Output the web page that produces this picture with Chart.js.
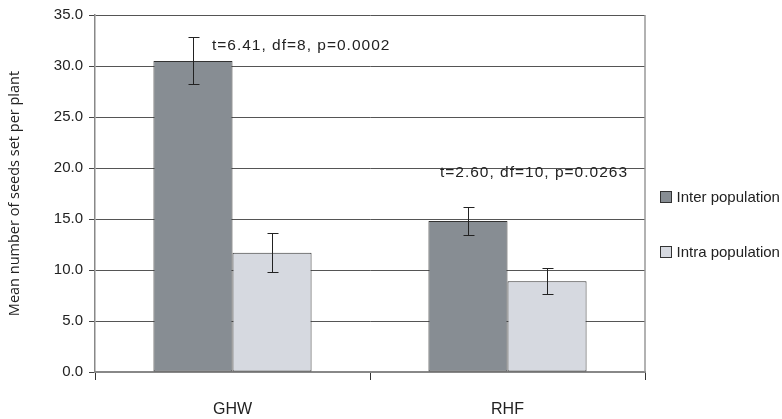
<!DOCTYPE html>
<html>
<head>
<meta charset="utf-8">
<script src="https://cdn.jsdelivr.net/npm/chart.js@4.4.1/dist/chart.umd.min.js"></script>
<style>
  html, body { margin: 0; padding: 0; background: #fff; }
  #wrap { width: 782px; height: 419px; }
</style>
</head>
<body>
<div id="wrap"><canvas id="myChart"></canvas></div>
<script>
// data
const sites = ['GHW', 'RHF'];
const interMeans = [30.5, 14.8];
const interErr = [2.3, 1.4];
const intraMeans = [11.7, 8.9];
const intraErr = [1.9, 1.3];
const statTexts = ['t=6.41, df=8, p=0.0002', 't=2.60, df=10, p=0.0263'];
const yTicks = [0, 5, 10, 15, 20, 25, 30, 35];

const sans = '"Liberation Sans", Arial, sans-serif';

// error bars + t-test text
const extras = {
    id: 'extras',
    afterDatasetsDraw(chart) {
        const c = chart.ctx;
        const y = chart.scales.y;
        c.save();
        c.strokeStyle = '#222';
        c.lineWidth = 1;
        chart.data.datasets.forEach((ds, i) => {
            const meta = chart.getDatasetMeta(i);
            meta.data.forEach((bar, j) => {
                const x = Math.round(bar.x) + 0.5;
                const top = Math.round(y.getPixelForValue(ds.data[j] + ds.err[j])) + 0.5;
                const bot = Math.round(y.getPixelForValue(ds.data[j] - ds.err[j])) + 0.5;
                c.beginPath();
                c.moveTo(x, top); c.lineTo(x, bot);
                c.moveTo(x - 5, top); c.lineTo(x + 6, top);
                c.moveTo(x - 5, bot); c.lineTo(x + 6, bot);
                c.stroke();
            });
        });
        // stat text placed relative to the inter bar's error bar
        c.fillStyle = '#222';
        c.font = '15.5px ' + sans;
        c.letterSpacing = '1px';
        c.textBaseline = 'middle';
        const meta0 = chart.getDatasetMeta(0);
        const dx = [19, -28];
        const dy = [8, -34];
        statTexts.forEach((t, j) => {
            const bar = meta0.data[j];
            const ty = y.getPixelForValue(interMeans[j] + interErr[j]) + dy[j];
            c.fillText(t, bar.x + dx[j], ty);
        });
        c.restore();
    }
};

// right border of the plot + legend on the right
const frame = {
    id: 'frame',
    beforeDatasetsDraw(chart) {
        const a = chart.chartArea;
        const c = chart.ctx;
        c.save();
        c.strokeStyle = '#999';
        c.lineWidth = 1.5;
        c.beginPath();
        c.moveTo(a.right, a.top);
        c.lineTo(a.right, a.bottom);
        c.stroke();
        c.restore();
    },
    afterDraw(chart) {
        const a = chart.chartArea;
        const c = chart.ctx;
        c.save();
        c.font = '15px ' + sans;
        c.textBaseline = 'middle';
        chart.data.datasets.forEach((ds, i) => {
            const bx = a.right + 15.5;
            const by = 191.5 + i * 55;
            c.fillStyle = ds.backgroundColor;
            c.fillRect(bx, by, 11, 11);
            c.strokeStyle = '#333';
            c.lineWidth = 1;
            c.strokeRect(bx, by, 11, 11);
            c.fillStyle = '#222';
            c.fillText(ds.label, bx + 16, by + 6);
        });
        c.restore();
    }
};

const data = {
    labels: sites,
    datasets: [
        {
            label: 'Inter population',
            data: interMeans,
            err: interErr,
            backgroundColor: '#878d93',
            borderColor: '#333',
            borderWidth: 1,
            borderSkipped: false,
        },
        {
            label: 'Intra population',
            data: intraMeans,
            err: intraErr,
            backgroundColor: '#d6d9e0',
            borderColor: '#333',
            borderWidth: 1,
            borderSkipped: false,
        },
    ]
};

const config = {
    type: 'bar',
    data,
    options: {
        responsive: true,
        maintainAspectRatio: false,
        animation: false,
        layout: { padding: { top: 8, right: 137, bottom: 0, left: 0 } },
        datasets: {
            bar: { barPercentage: 1, categoryPercentage: 0.575 }
        },
        plugins: {
            legend: { display: false },
            tooltip: { enabled: false }
        },
        scales: {
            x: {
                afterFit: axis => { axis.height = 47; },
                grid: {
                    offset: true,
                    drawOnChartArea: false,
                    tickLength: 8,
                    tickColor: '#333'
                },
                border: { color: '#888', width: 2 },
                ticks: {
                    color: '#222',
                    padding: 20,
                    font: { size: 16, family: '"Liberation Sans Narrow", ' + sans }
                }
            },
            y: {
                min: 0,
                max: 35,
                afterFit: axis => { axis.width = 95; },
                afterBuildTicks: axis => { axis.ticks = yTicks.map(v => ({ value: v })); },
                ticks: {
                    color: '#222',
                    padding: 6,
                    font: { size: 15, family: sans },
                    callback: v => v.toFixed(1)
                },
                grid: { color: '#555', tickLength: 6, tickColor: '#444' },
                border: { color: '#888', width: 1.5 },
                title: {
                    display: true,
                    text: 'Mean number of seeds set per plant',
                    color: '#222',
                    padding: { top: 6, bottom: 0 },
                    font: { size: 14.5, family: '"Open Sans", "Noto Sans", sans-serif' }
                }
            }
        }
    },
    plugins: [frame, extras]
};

const ctx = document.getElementById('myChart');
const myChart = new Chart(ctx, config);
</script>
</body>
</html>
